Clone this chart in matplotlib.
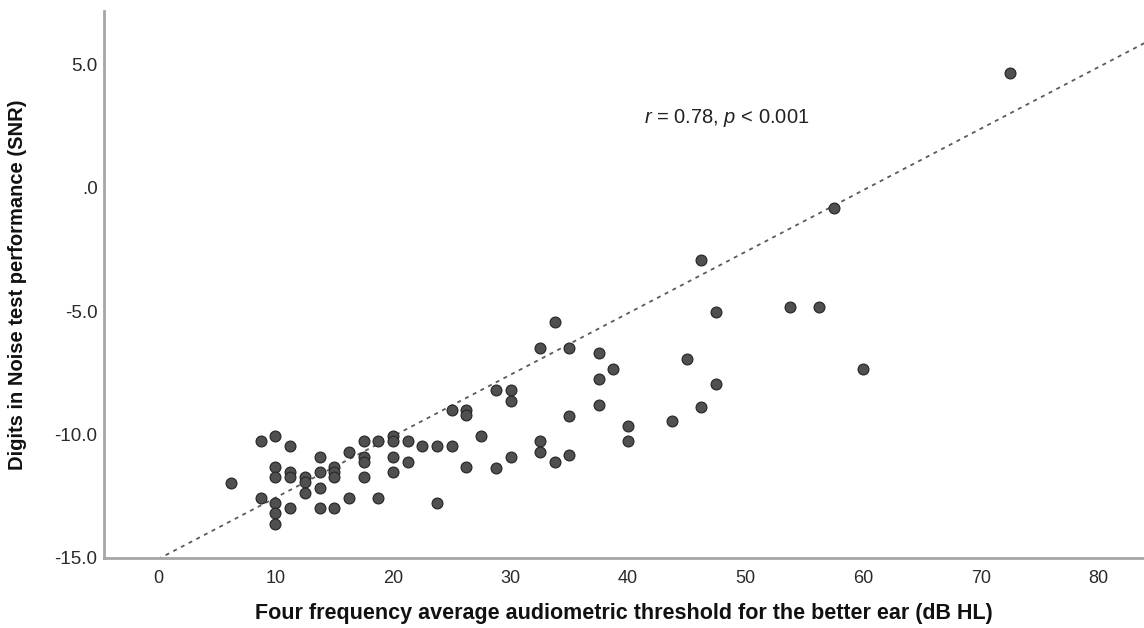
import matplotlib
matplotlib.use("Agg")
import matplotlib.pyplot as plt
import numpy as np

# Four frequency average threshold (dB HL), better ear
pta = [6.25, 8.75, 10, 11.25, 10, 10, 11.25, 11.25, 12.5, 12.5,
       12.5, 8.75, 10, 10, 10, 11.25, 13.75, 13.75, 13.75, 13.75,
       15, 15, 15, 15, 16.25, 16.25, 17.5, 17.5, 17.5, 17.5,
       18.75, 18.75, 20, 20, 20, 20, 21.25, 21.25, 22.5, 23.75,
       25, 23.75, 25, 26.25, 26.25, 26.25, 27.5, 28.75,
       46.25, 33.75, 32.5, 35, 37.5, 38.75, 37.5, 37.5, 28.75, 30,
       30, 35, 32.5, 32.5, 30, 33.75, 35, 40, 40, 43.75,
       45, 46.25, 47.5, 47.5, 53.75, 56.25, 60, 57.5, 72.5]

# Digits in Noise SNR
din = [-11.95, -10.26, -10.07, -10.47, -11.30, -11.73, -11.53, -11.73, -11.73, -11.94,
       -12.38, -12.58, -12.79, -13.19, -13.62, -12.99, -10.90, -11.53, -12.15, -12.99,
       -12.99, -11.30, -11.53, -11.73, -10.70, -12.58, -10.26, -10.90, -11.10, -11.73,
       -10.26, -12.58, -10.05, -10.26, -10.90, -11.53, -10.26, -11.10, -10.47, -10.47,
       -10.47, -12.79, -9.01, -9.01, -9.21, -11.30, -10.05, -11.34,
       -2.94, -5.45, -6.51, -6.51, -6.71, -7.35, -7.77, -8.81, -8.20, -8.20,
       -8.63, -9.24, -10.28, -10.71, -10.91, -11.13, -10.84, -9.66, -10.28, -9.44,
       -6.93, -8.87, -7.97, -5.03, -4.83, -4.83, -7.35, -0.84, 4.62]

# fit line
fit_intercept = -15.05
fit_slope = 0.249
fit_x = [0, 86]

x_ticks = [0, 10, 20, 30, 40, 50, 60, 70, 80]
y_ticks = [-15, -10, -5, 0, 5]
y_tick_labels = ["-15.0", "-10.0", "-5.0", ".0", "5.0"]

plt.rcParams['font.family'] = ['Liberation Sans', 'DejaVu Sans']
plt.rcParams['mathtext.fontset'] = 'custom'
plt.rcParams['mathtext.rm'] = 'Liberation Sans'
plt.rcParams['mathtext.it'] = 'Liberation Sans:italic'

fig = plt.figure(figsize=(11.44, 6.28), dpi=100)
ax = fig.add_axes([0.0913, 0.1115, 0.9087, 0.871])

# regression line
line_y = [fit_intercept + fit_slope * v for v in fit_x]
ax.plot(fit_x, line_y, color='#5a5a5a', linewidth=1.3, dashes=(2.2, 2.6), zorder=1)

# scatter points
ax.scatter(pta, din, s=60, facecolor='#505050', edgecolor='#2a2a2a', linewidth=0.9, zorder=2)

ax.set_xlim(-4.55, 83.9)
ax.set_ylim(-15, 7.15)

ax.set_xticks(x_ticks)
ax.set_yticks(y_ticks)
ax.set_yticklabels(y_tick_labels)
ax.tick_params(axis='both', length=0, labelcolor='#2a2a2a')
ax.tick_params(axis='x', pad=9, labelsize=13)
ax.tick_params(axis='y', pad=5, labelsize=13.5)

for side in ['top', 'right']:
    ax.spines[side].set_visible(False)
for side in ['left', 'bottom']:
    ax.spines[side].set_color('#a6a6a6')
    ax.spines[side].set_linewidth(2)

ax.set_xlabel('Four frequency average audiometric threshold for the better ear (dB HL)',
              fontsize=15.5, fontweight='bold', color='#111111')
ax.set_ylabel('Digits in Noise test performance (SNR)',
              fontsize=14.5, fontweight='bold', color='#111111')
ax.xaxis.set_label_coords(0.5, -0.082)
ax.yaxis.set_label_coords(-0.0746, 0.5)

ax.text(41.4, 2.81, '$r$ = 0.78, $p$ < 0.001', fontsize=14.5, color='#222222',
        ha='left', va='center')

fig.savefig('out.png', dpi=100)
